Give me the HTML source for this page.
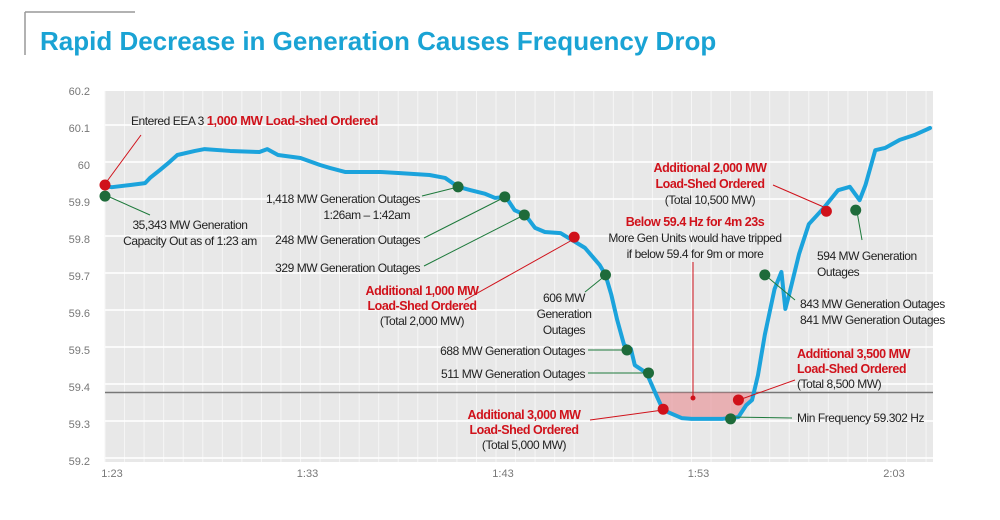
<!DOCTYPE html>
<html><head><meta charset="utf-8"><style>
body{margin:0;background:#fff;width:1000px;height:515px;overflow:hidden;font-family:"Liberation Sans",sans-serif}
svg text{font-family:"Liberation Sans",sans-serif}
#notes text{letter-spacing:-0.45px}
</style></head><body>
<svg id="chart" width="1000" height="515" xmlns="http://www.w3.org/2000/svg">
<line x1="25" y1="12" x2="135" y2="12" stroke="#999" stroke-width="1.5"/>
<line x1="25" y1="12" x2="25" y2="55" stroke="#999" stroke-width="1.5"/>
<text x="40" y="50" font-size="26" font-weight="bold" fill="#1aa3d4">Rapid Decrease in Generation Causes Frequency Drop</text>
<rect x="105" y="91" width="828" height="371" fill="#e8e8e8"/>
<g id="grid"></g><g id="axes"></g><g id="shade"></g><g id="series"></g><g id="notes"></g><g id="marks"></g>
</svg>
<script>
const times=[0,0.35,1.3,2.05,2.3,2.8,3.3,3.7,4.6,5.1,6.4,7.9,8.3,8.85,10,11,11.5,12.3,13.05,14.1,15.1,16.6,17.4,18.06,18.7,19.45,19.95,20.5,20.95,21.5,22,22.5,23.3,23.9,24.55,25.3,25.6,25.9,26.2,26.55,26.9,27.1,27.7,28.2,28.5,28.8,29.5,30,30.8,31.6,32.4,32.8,33.1,33.4,33.75,34.25,34.6,34.8,35,35.5,36,36.8,37.5,38.1,38.6,38.9,39.4,39.9,40.65,41.4,42.2];
const freqs=[59.943,59.940,59.946,59.951,59.965,59.986,60.008,60.027,60.038,60.043,60.038,60.035,60.043,60.027,60.019,60.000,59.992,59.981,59.981,59.981,59.978,59.973,59.965,59.941,59.932,59.922,59.911,59.914,59.878,59.865,59.830,59.819,59.816,59.797,59.776,59.730,59.703,59.649,59.581,59.514,59.503,59.459,59.438,59.378,59.343,59.332,59.316,59.314,59.314,59.314,59.319,59.351,59.365,59.432,59.541,59.665,59.711,59.611,59.651,59.759,59.840,59.886,59.932,59.941,59.905,59.946,60.040,60.046,60.068,60.081,60.100];
const yTicks=[60.2,60.1,60.0,59.9,59.8,59.7,59.6,59.5,59.4,59.3,59.2];
const yTickLabels=["60.2","60.1","60","59.9","59.8","59.7","59.6","59.5","59.4","59.3","59.2"];
const xTicks=[0,10,20,30,40];
const xTickLabels=["1:23","1:33","1:43","1:53","2:03"];
const threshold=[59.385];
const redMarkers=[[0,59.946],[24.0,59.805],[28.55,59.340],[32.4,59.365],[36.9,59.875]];
const greenMarkers=[[0,59.916],[18.06,59.941],[20.45,59.914],[21.45,59.865],[25.6,59.703],[26.7,59.500],[27.8,59.438],[32,59.314],[33.75,59.703],[38.4,59.878]];
const NS="http://www.w3.org/2000/svg";
const X=t=>105+t*19.55, Y=f=>91+(60.2-f)*370;
function el(tag,attrs,parent){const e=document.createElementNS(NS,tag);for(const k in attrs)e.setAttribute(k,attrs[k]);parent.appendChild(e);return e;}
const grid=document.getElementById('grid'),axes=document.getElementById('axes');
for(let m=0;m<=42;m++){const l=el('line',{x1:X(m),x2:X(m),y1:91,y2:462,stroke:'#f6f6f6','stroke-width':1},grid);

}
yTicks.forEach((v,i)=>{const l=el('line',{x1:105,x2:933,y1:Y(v)-3,y2:Y(v)-3,stroke:'#fff','stroke-width':1.5},grid);


const t=el('text',{x:90,y:Y(v)+4,'font-size':11,fill:'#777','text-anchor':'end'},axes);t.textContent=yTickLabels[i];

});
xTicks.forEach((v,i)=>{const t=el('text',{x:X(v)+7,y:477,'font-size':11,fill:'#777','text-anchor':'middle'},axes);t.textContent=xTickLabels[i];

});
const ty=Y(threshold[0]);
const th=el('line',{x1:105,x2:933,y1:ty,y2:ty,stroke:'#777','stroke-width':1.5},axes);


let poly=[];times.forEach((t,i)=>{if(t>=28&&t<=33.2)poly.push([X(t),Math.max(Y(freqs[i]),ty)]);});
const ptsS=poly.map(p=>p.join(',')).join(' ')+` ${poly[poly.length-1][0]},${ty} ${poly[0][0]},${ty}`;
const sh=el('polygon',{points:ptsS,fill:'#e88a8f','fill-opacity':0.6},document.getElementById('shade'));


const path=el('polyline',{points:times.map((t,i)=>X(t)+','+Y(freqs[i])).join(' '),fill:'none',stroke:'#1ba3dc','stroke-width':4,'stroke-linejoin':'round','stroke-linecap':'round'},document.getElementById('series'));


const notes=document.getElementById('notes');
function ln(x1,y1,x2,y2,c){const l=el('line',{x1,y1,x2,y2,stroke:c,'stroke-width':1},notes);

}
function tx(x,y,s,anchor,red,bold){const t=el('text',{x,y,'font-size':bold?12.5:12,fill:red?'#d0121b':'#222','text-anchor':anchor,'font-weight':bold?'bold':'normal'},notes);t.textContent=s;

return t;}
const R='#d0121b',G='#1e7a3c';
ln(105,184,141,135,R);
const t1=tx(131,125,'Entered EEA 3 ','start');const sp=el('tspan',{fill:R,'font-weight':'bold','font-size':13},t1);sp.textContent='1,000 MW Load-shed Ordered';
ln(105,195,150,215,G);
tx(190,229,'35,343 MW Generation','middle');tx(190,245,'Capacity Out as of 1:23 am','middle');
ln(422,196,458,187,G);tx(420,203,'1,418 MW Generation Outages','end');tx(410,219,'1:26am – 1:42am','end');
ln(424,238,505,197,G);tx(420,244,'248 MW Generation Outages','end');
ln(424,266,524,215,G);tx(420,272,'329 MW Generation Outages','end');
ln(465,300,574,239,R);tx(422,295,'Additional 1,000 MW','middle',1,1);tx(422,310,'Load-Shed Ordered','middle',1,1);tx(422,325,'(Total 2,000 MW)','middle');
ln(585,292,606,275,G);tx(564,302,'606 MW','middle');tx(564,318,'Generation','middle');tx(564,334,'Outages','middle');
ln(588,350,627,350,G);tx(585,355,'688 MW Generation Outages','end');
ln(588,373,649,373,G);tx(585,378,'511 MW Generation Outages','end');
ln(590,420,663,410,R);tx(524,419,'Additional 3,000 MW','middle',1,1);tx(524,434,'Load-Shed Ordered','middle',1,1);tx(524,449,'(Total 5,000 MW)','middle');
ln(693,262,693,398,R);tx(695,226,'Below 59.4 Hz for 4m 23s','middle',1,1);tx(695,242,'More Gen Units would have tripped','middle');tx(695,258,'if below 59.4 for 9m or more','middle');
ln(773,185,826,208,R);tx(710,172,'Additional 2,000 MW','middle',1,1);tx(710,188,'Load-Shed Ordered','middle',1,1);tx(710,204,'(Total 10,500 MW)','middle');
ln(856,206,862,240,G);tx(817,260,'594 MW Generation','start');tx(817,276,'Outages','start');
ln(765,275,795,300,G);tx(800,308,'843 MW Generation Outages','start');tx(800,324,'841 MW Generation Outages','start');
ln(795,380,736,401,R);tx(797,358,'Additional 3,500 MW','start',1,1);tx(797,373,'Load-Shed Ordered','start',1,1);tx(797,388,'(Total 8,500 MW)','start');
ln(727,417,792,418,G);tx(797,422,'Min Frequency 59.302 Hz','start');
const marks=document.getElementById('marks');
const dot=el('circle',{cx:693,cy:398,r:2.5,fill:R},marks);


redMarkers.forEach(m=>{const c=el('circle',{cx:X(m[0]),cy:Y(m[1]),r:5.5,fill:'#d0121b'},marks);

});
greenMarkers.forEach(m=>{const c=el('circle',{cx:X(m[0]),cy:Y(m[1]),r:5.5,fill:'#1e6b3a'},marks);

});
</script>
</body></html>
